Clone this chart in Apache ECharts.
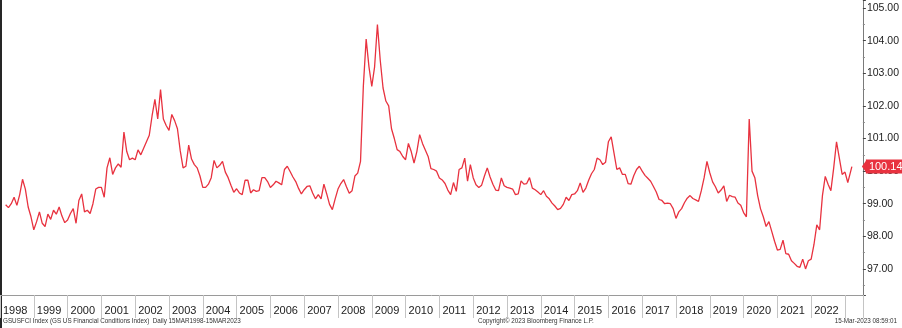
<!DOCTYPE html>
<html>
<head>
<meta charset="utf-8">
<script src="https://cdn.jsdelivr.net/npm/echarts@6/dist/echarts.min.js"></script>
<style>
html, body { margin: 0; padding: 0; background: #fff; }
#chart { width: 902px; height: 328px; }
</style>
</head>
<body>
<div id="chart"></div>
<script>
/* GS US Financial Conditions Index, monthly readings taken off the Bloomberg chart */

var firstYear = 1998, firstMonth = 3; // series starts Mar 1998
var lastDay = 15;                      // and ends 15-Mar-2023

var fci1998 = [98.97, 98.88, 99.0, 99.2, 98.95, 99.28, 99.75, 99.45, 98.9, 98.6];
var fci1999 = [98.2, 98.45, 98.75, 98.4, 98.3, 98.68, 98.52, 98.8, 98.68, 98.9, 98.62, 98.42];
var fci2000 = [98.5, 98.7, 98.85, 98.4, 99.1, 99.3, 98.75, 98.8, 98.7, 99.0, 99.45, 99.5];
var fci2001 = [99.5, 99.2, 100.1, 100.41, 99.9, 100.1, 100.22, 100.12, 101.2, 100.6, 100.35, 100.4];
var fci2002 = [100.35, 100.65, 100.5, 100.7, 100.9, 101.1, 101.7, 102.2, 101.6, 102.5, 101.6, 101.4];
var fci2003 = [101.25, 101.74, 101.55, 101.3, 100.62, 100.1, 100.15, 100.8, 100.37, 100.2, 100.1, 99.85];
var fci2004 = [99.5, 99.5, 99.6, 99.8, 100.33, 100.1, 100.18, 100.3, 99.97, 99.8, 99.57, 99.35];
var fci2005 = [99.46, 99.33, 99.28, 99.72, 99.72, 99.33, 99.43, 99.38, 99.4, 99.8, 99.8, 99.68];
var fci2006 = [99.5, 99.58, 99.69, 99.64, 99.58, 100.05, 100.15, 99.99, 99.82, 99.68, 99.47, 99.3];
var fci2007 = [99.43, 99.53, 99.55, 99.33, 99.15, 99.28, 99.15, 99.6, 99.3, 98.98, 98.82, 99.15];
var fci2008 = [99.45, 99.62, 99.74, 99.52, 99.32, 99.4, 99.85, 99.94, 100.3, 102.6, 104.05, 103.2];
var fci2009 = [102.6, 103.2, 104.5, 103.4, 102.55, 102.15, 102.0, 101.3, 101.0, 100.66, 100.6, 100.45];
var fci2010 = [100.35, 100.85, 100.6, 100.25, 100.6, 101.12, 100.85, 100.65, 100.45, 100.08, 100.05, 100.0];
var fci2011 = [99.79, 99.73, 99.62, 99.42, 99.28, 99.65, 99.38, 100.05, 100.1, 100.4, 99.69, 100.2];
var fci2012 = [99.8, 99.58, 99.5, 99.57, 99.85, 100.1, 99.82, 99.6, 99.42, 99.4, 99.79, 99.55];
var fci2013 = [99.5, 99.48, 99.45, 99.28, 99.3, 99.7, 99.6, 99.62, 99.8, 99.48, 99.43, 99.36];
var fci2014 = [99.28, 99.4, 99.23, 99.15, 99.02, 98.93, 98.82, 98.86, 98.98, 99.2, 99.1, 99.28];
var fci2015 = [99.3, 99.4, 99.64, 99.35, 99.48, 99.72, 99.92, 100.05, 100.4, 100.35, 100.2, 100.27];
var fci2016 = [100.9, 101.05, 100.55, 100.05, 100.1, 99.9, 99.9, 99.62, 99.6, 99.86, 100.05, 100.15];
var fci2017 = [100.0, 99.87, 99.78, 99.69, 99.53, 99.36, 99.13, 99.1, 99.0, 99.02, 99.0, 98.85];
var fci2018 = [98.55, 98.75, 98.85, 99.03, 99.17, 99.25, 99.16, 99.12, 99.07, 99.4, 99.8, 100.3];
var fci2019 = [99.95, 99.67, 99.52, 99.33, 99.42, 99.55, 99.07, 99.26, 99.22, 99.2, 99.02, 98.95];
var fci2020 = [98.73, 98.6, 101.6, 100.0, 99.8, 99.25, 98.85, 98.6, 98.3, 98.45, 98.15, 97.85];
var fci2021 = [97.58, 97.6, 97.88, 97.47, 97.45, 97.25, 97.17, 97.08, 97.05, 97.3, 97.0, 97.25];
var fci2022 = [97.3, 97.75, 98.35, 98.2, 99.25, 99.84, 99.6, 99.4, 100.1, 100.9, 100.4, 99.9];
var fci2023 = [99.97, 99.65, 100.14];

var yearLabels = ['1998', '1999', '2000', '2001', '2002', '2003', '2004', '2005', '2006', '2007',
    '2008', '2009', '2010', '2011', '2012', '2013', '2014', '2015', '2016', '2017',
    '2018', '2019', '2020', '2021', '2022'];

var fci = [].concat(fci1998, fci1999, fci2000, fci2001, fci2002, fci2003, fci2004, fci2005,
    fci2006, fci2007, fci2008, fci2009, fci2010, fci2011, fci2012, fci2013, fci2014, fci2015,
    fci2016, fci2017, fci2018, fci2019, fci2020, fci2021, fci2022, fci2023);

var lineData = [];
for (var i = 0; i < fci.length; i++) {
    var t = firstYear + (firstMonth - 1 + i) / 12; // 1st of each month as a decimal year
    if (i === fci.length - 1) t += (lastDay - 1) / 31 / 12;
    lineData.push([t, fci[i]]);
}
var lastValue = fci[fci.length - 1];

var red = '#e8323f';
var xMax = 2023.53;
var myChart = echarts.init(document.getElementById('chart'), null, { renderer: 'canvas' });

var option = {
    animation: false,
    backgroundColor: '#fff',
    grid: { left: -4, right: 37, top: 0, bottom: 33 },
    xAxis: {
        type: 'value',
        min: 1998,
        max: xMax,
        interval: 1,
        splitLine: { show: false },
        axisLine: { lineStyle: { color: '#9a9a9a', width: 1 } },
        axisTick: { length: 23, lineStyle: { color: '#c4c4c4' } },
        axisLabel: {
            formatter: function (v) {
                var s = String(v);
                return yearLabels.indexOf(s) >= 0 ? s : '';
            },
            align: 'left',
            padding: [0, 0, 0, 3],
            margin: 10,
            fontFamily: 'Liberation Sans',
            fontSize: 11,
            color: '#222'
        }
    },
    yAxis: {
        type: 'value',
        position: 'right',
        min: 96.2,
        max: 105.25,
        minInterval: 1,
        maxInterval: 1,
        scale: true,
        splitLine: { show: false },
        axisLine: { show: true, lineStyle: { color: '#7a7a7a' } },
        axisTick: { show: true, length: 3, lineStyle: { color: '#444' } },
        minorTick: { show: true, splitNumber: 2, length: 2, lineStyle: { color: '#888' } },
        axisLabel: {
            formatter: function (v) { return v.toFixed(2); },
            showMinLabel: false,
            showMaxLabel: false,
            margin: 4,
            fontFamily: 'Liberation Sans',
            fontSize: 10.5,
            color: '#222'
        }
    },
    series: [
        {
            name: 'GSUSFCI',
            type: 'line',
            data: lineData,
            showSymbol: false,
            symbol: 'none',
            lineStyle: { color: red, width: 1.3 },
            markLine: {
                silent: true,
                symbol: ['none', 'none'],
                data: [{ yAxis: lastValue }],
                lineStyle: { color: 'rgba(0,0,0,0)', width: 0 },
                label: {
                    show: true,
                    position: 'end',
                    distance: 3,
                    formatter: lastValue.toFixed(2),
                    backgroundColor: red,
                    color: '#fff',
                    fontFamily: 'Liberation Sans',
                    fontSize: 11,
                    padding: [2, 2, 1, 3]
                }
            }
        }
    ],
    graphic: [
        { id: 'frame', type: 'rect', left: 0, top: 0, shape: { width: 2, height: 328 }, style: { fill: '#262626' } },
        {
            id: 'src', type: 'text', left: 3, top: 318,
            style: { text: 'GSUSFCI Index (GS US Financial Conditions Index)  Daily 15MAR1998-15MAR2023', font: '6.3px "Liberation Sans"', fill: '#333' }
        },
        {
            id: 'copy', type: 'text', left: 478, top: 318,
            style: { text: 'Copyright© 2023 Bloomberg Finance L.P.', font: '6.3px "Liberation Sans"', fill: '#333' }
        },
        {
            id: 'stamp', type: 'text', right: 5, top: 318,
            style: { text: '15-Mar-2023 08:59:01', font: '6.3px "Liberation Sans"', fill: '#333' }
        }
    ]
};

myChart.setOption(option);

// little pointer on the last-value tag, placed from the axis scale
var tip = myChart.convertToPixel({ gridIndex: 0 }, [xMax, lastValue]);
myChart.setOption({
    graphic: [{
        id: 'tagArrow', type: 'polygon', z: 100,
        shape: { points: [[tip[0] - 1, tip[1]], [tip[0] + 4, tip[1] - 7], [tip[0] + 4, tip[1] + 7]] },
        style: { fill: red }
    }]
});
</script>
